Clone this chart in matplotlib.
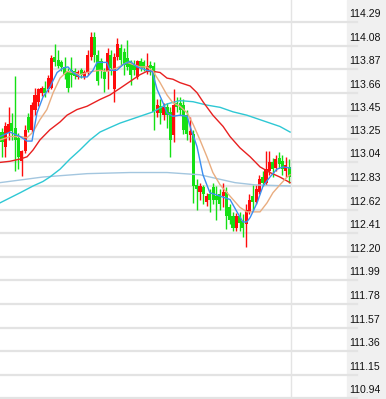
import numpy as np
import matplotlib.pyplot as plt
import matplotlib.transforms as mtransforms
from matplotlib.patches import Rectangle

# -----------------------------
# Candles (red = up, green = down)
# -----------------------------
opens = [113.31, 113.18, 113.30, 113.39, 113.35, 113.26, 113.05, 113.14, 113.44, 113.33,
         113.51, 113.58, 113.66, 113.70, 113.69, 113.70, 113.98, 113.95, 113.93, 113.89,
         113.85, 113.86, 113.85, 113.80, 113.86, 113.80, 113.84, 113.98, 114.16, 114.00,
         113.94, 113.84, 113.85, 114.00, 113.69, 113.98, 114.06, 114.02, 113.97, 113.93,
         113.91, 113.80, 113.94, 113.93, 113.85, 113.91, 113.90, 113.48, 113.54, 113.46,
         113.53, 113.49, 113.28, 113.57, 113.57, 113.55, 113.46, 113.28, 113.29, 112.84,
         112.78, 112.82, 112.69, 112.76, 112.82, 112.74, 112.76, 112.74, 112.78, 112.64,
         112.56, 112.46, 112.56, 112.52, 112.49, 112.60, 112.74, 112.69, 112.78, 112.91,
         112.86, 112.96, 113.04, 112.99, 113.08, 113.05, 112.96, 113.00]
highs = [113.35, 113.40, 113.53, 113.48, 113.81, 113.30, 113.15, 113.37, 113.48, 113.58,
         113.70, 113.70, 113.72, 113.76, 113.82, 114.00, 114.09, 114.04, 113.95, 113.98,
         113.88, 113.98, 113.88, 113.86, 113.88, 113.86, 114.04, 114.20, 114.20, 114.04,
         113.97, 113.88, 114.06, 114.04, 114.01, 114.15, 114.09, 114.06, 114.13, 113.95,
         113.95, 113.95, 113.97, 113.95, 114.01, 113.94, 113.93, 113.60, 113.60, 113.57,
         113.57, 113.53, 113.69, 113.62, 113.62, 113.60, 113.51, 113.44, 113.33, 112.89,
         112.86, 112.84, 112.77, 112.80, 112.86, 112.83, 112.80, 112.86, 112.82, 112.67,
         112.60, 112.59, 112.60, 112.58, 112.67, 112.76, 112.84, 112.84, 112.93, 112.96,
         113.14, 113.14, 113.08, 113.11, 113.13, 113.11, 113.09, 113.07]
lows = [113.09, 113.09, 113.24, 113.24, 112.96, 112.98, 112.92, 113.12, 113.31, 113.31,
        113.46, 113.54, 113.63, 113.62, 113.67, 113.69, 113.90, 113.88, 113.85, 113.78,
        113.67, 113.71, 113.78, 113.78, 113.79, 113.78, 113.82, 113.95, 113.93, 113.73,
        113.79, 113.67, 113.69, 113.82, 113.58, 113.95, 113.91, 113.82, 113.86, 113.73,
        113.82, 113.78, 113.85, 113.85, 113.83, 113.82, 113.33, 113.44, 113.38, 113.42,
        113.35, 113.09, 113.22, 113.49, 113.46, 113.29, 113.24, 113.22, 112.68, 112.62,
        112.71, 112.67, 112.65, 112.60, 112.67, 112.53, 112.62, 112.64, 112.45, 112.49,
        112.43, 112.43, 112.43, 112.38, 112.29, 112.58, 112.62, 112.67, 112.76, 112.83,
        112.84, 112.93, 112.91, 112.96, 112.99, 112.93, 112.91, 112.86]
closes = [113.22, 113.36, 113.38, 113.32, 113.24, 113.09, 113.14, 113.33, 113.33, 113.55,
          113.64, 113.69, 113.70, 113.66, 113.79, 113.97, 113.93, 113.90, 113.89, 113.82,
          113.70, 113.82, 113.81, 113.84, 113.82, 113.84, 114.00, 114.16, 114.00, 113.76,
          113.85, 113.78, 114.01, 113.88, 113.98, 114.09, 113.95, 113.91, 113.89, 113.82,
          113.86, 113.94, 113.89, 113.88, 113.90, 113.88, 113.49, 113.55, 113.48, 113.53,
          113.46, 113.24, 113.55, 113.53, 113.51, 113.33, 113.29, 113.32, 112.83, 112.80,
          112.83, 112.76, 112.74, 112.71, 112.71, 112.71, 112.67, 112.78, 112.56, 112.53,
          112.46, 112.56, 112.50, 112.46, 112.62, 112.71, 112.69, 112.80, 112.89, 112.86,
          112.98, 113.04, 112.98, 113.07, 113.03, 112.98, 113.02, 112.91]

# -----------------------------
# Moving averages, sampled along the chart (candle index -> price)
# -----------------------------
ma_blue_x = [-0.6, 2.4, 5.5, 7.6, 9.1, 10.6, 12.4, 14.5, 16.7, 18.5, 20, 21.5, 23.6, 25.8,
             27.6, 28.8, 31.8, 32.7, 34.8, 36.7, 38.8, 40.9, 43.9, 45.5, 47, 48.8, 50, 51.8,
             53.9, 56.1, 57, 59.1, 60.9, 63, 66.1, 69.1, 71.2, 73, 74.2, 75.2, 77.3, 79.1,
             81.2, 83.3, 85.2, 87.3]
ma_blue = [113.27, 113.31, 113.27, 113.23, 113.23, 113.48, 113.62, 113.71, 113.84, 113.88,
           113.89, 113.84, 113.80, 113.80, 113.86, 113.93, 113.93, 113.86, 113.86, 113.91,
           113.94, 113.89, 113.86, 113.85, 113.69, 113.57, 113.48, 113.45, 113.46, 113.45,
           113.36, 113.18, 112.93, 112.77, 112.74, 112.71, 112.60, 112.51, 112.51, 112.55,
           112.68, 112.83, 112.91, 112.98, 113.00, 112.99]

ma_tan_x = [-0.6, 2.4, 5.5, 7.6, 9.4, 11.5, 13.6, 15.5, 17.6, 19.7, 21.5, 23.6, 25.8, 27.6,
            29.7, 31.8, 34.8, 37.9, 41.8, 43.9, 45.8, 47.9, 50, 51.8, 53.9, 56.1, 57.9, 60,
            62.1, 63.9, 66.1, 69.1, 72.1, 74.2, 76.1, 78.2, 80.3, 82.1, 84.2, 86.4, 87.3]
ma_tan = [113.24, 113.27, 113.27, 113.26, 113.31, 113.42, 113.51, 113.66, 113.79, 113.85,
          113.84, 113.82, 113.84, 113.85, 113.86, 113.85, 113.88, 113.93, 113.89, 113.89,
          113.85, 113.75, 113.64, 113.57, 113.54, 113.48, 113.38, 113.24, 113.09, 112.95,
          112.84, 112.74, 112.64, 112.60, 112.60, 112.60, 112.68, 112.77, 112.84, 112.91,
          112.93]

ma_red_x = [-0.6, 2.4, 5.5, 7.6, 9.4, 11.5, 14.5, 17.6, 19.7, 22.7, 25.8, 29.7, 32.7, 35.8,
            38.8, 41.8, 43.9, 45.8, 47.9, 50, 51.8, 53.9, 57, 59.1, 60.9, 63.9, 67, 69.1,
            72.1, 75.2, 78.2, 81.2, 84.2, 87.3]
ma_red = [113.04, 113.05, 113.07, 113.09, 113.15, 113.24, 113.33, 113.40, 113.46, 113.51,
          113.54, 113.60, 113.64, 113.70, 113.76, 113.82, 113.85, 113.85, 113.84, 113.79,
          113.78, 113.75, 113.72, 113.66, 113.58, 113.46, 113.36, 113.27, 113.17, 113.09,
          113.00, 112.95, 112.91, 112.86]

ma_cyan_x = [-0.6, 5.5, 9.4, 12.4, 14.5, 17.6, 20.6, 23.6, 26.7, 29.7, 32.7, 35.8, 38.8,
             41.8, 45.8, 50, 53.9, 57.9, 62.1, 66.1, 70, 74.2, 78.2, 84.2, 87.3]
ma_cyan = [112.68, 112.77, 112.83, 112.87, 112.91, 112.98, 113.07, 113.15, 113.24, 113.31,
           113.35, 113.39, 113.42, 113.45, 113.49, 113.56, 113.59, 113.58, 113.55, 113.53,
           113.49, 113.46, 113.42, 113.36, 113.31]

ma_pale_x = [-0.6, 12.4, 25.8, 38.8, 50, 60, 64.5, 70.6, 76.7, 87.3]
ma_pale = [112.86, 112.91, 112.94, 112.95, 112.95, 112.93, 112.90, 112.86, 112.84, 112.83]

# price scale on the right
tick_labels = ["114.29", "114.08", "113.87", "113.66", "113.45", "113.25", "113.04",
               "112.83", "112.62", "112.41", "112.20", "111.99", "111.78", "111.57",
               "111.36", "111.15", "110.94"]

# -----------------------------
# Figure
# -----------------------------
W, H = 386, 399
plot_w = 347
fig = plt.figure(figsize=(W / 100, H / 100), dpi=100)
fig.patches.append(Rectangle((plot_w / W, 0), 1 - plot_w / W, 1, transform=fig.transFigure,
                             color="#f0f0f0", zorder=-1))
ax = fig.add_axes([0, 0, plot_w / W, 1])

o = np.array(opens)
h = np.array(highs)
l = np.array(lows)
c = np.array(closes)
idx = np.arange(len(o))

up_col = "#ff0c0c"
down_col = "#14e014"
cols = np.where(c >= o, up_col, down_col)

ax.vlines(idx, l, h, colors=cols, linewidth=1.0, zorder=2)
ax.bar(idx, np.maximum(np.abs(c - o), 0.015), bottom=np.minimum(o, c), width=0.95,
       color=cols, linewidth=0, zorder=3)

ax.plot(ma_pale_x, ma_pale, color="#a3c6df", lw=1.0, zorder=4)
ax.plot(ma_cyan_x, ma_cyan, color="#2ec8d4", lw=1.0, zorder=4)
ax.plot(ma_red_x, ma_red, color="#e82020", lw=1.0, zorder=4)
ax.plot(ma_tan_x, ma_tan, color="#e9ad80", lw=1.0, zorder=4)
ax.plot(ma_blue_x, ma_blue, color="#3a8ef0", lw=1.0, zorder=5)

# horizontal grid + labels
tick_vals = [float(t) for t in tick_labels]
for v in tick_vals:
    ax.axhline(v, color="#e3e3e3", lw=1.6, xmax=357 / plot_w, clip_on=False, zorder=0)

trans = mtransforms.blended_transform_factory(fig.transFigure, ax.transData)
trans = mtransforms.offset_copy(trans, fig=fig, x=0, y=8, units="dots")
for v, t in zip(tick_vals, tick_labels):
    ax.text(349 / W, v, t, transform=trans, ha="left", va="center",
            fontsize=7.6, family="Liberation Sans", color="#111111", clip_on=False)

# divider after the last candle
ax.axvline(idx[-1] + 0.6, color="#e4e4e4", lw=1, zorder=1)

ax.set_xlim(-0.6, (plot_w - 2) / 3.3)
ax.set_ylim(110.935, 114.485)
ax.axis("off")

fig.savefig("out.png", dpi=100)
